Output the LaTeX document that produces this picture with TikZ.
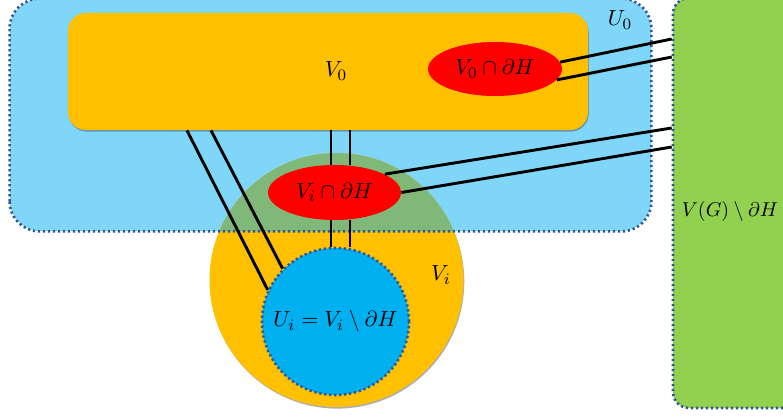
\documentclass[tikz,border=0pt]{standalone}
\usetikzlibrary{shapes.geometric,shadows}
\definecolor{ublue}{RGB}{127,214,248}
\definecolor{vorange}{RGB}{255,192,0}
\definecolor{gbox}{RGB}{146,208,80}
\definecolor{overlap}{RGB}{128,184,122}
\definecolor{uiblue}{RGB}{0,176,240}
\definecolor{dotc}{RGB}{47,85,151}
\tikzset{
  dotborder/.style={draw=dotc, line width=1.3pt, dash pattern=on 1.1pt off 1.4pt},
  softshadow/.style={drop shadow={shadow xshift=0.4pt, shadow yshift=-0.8pt, opacity=0.45, fill=black!70}},
  redell/.style={ellipse, fill=red, inner sep=0pt},
  edge/.style={line width=1.45pt, black},
  lbl/.style={font=\fontsize{11}{13}\selectfont, inner sep=0pt}
}
\begin{document}
\begin{tikzpicture}[x=0.5pt, y=-0.5pt]
\useasboundingbox (0,0) rectangle (783,417);
% U0 region (fill only)
\node[fill=ublue, rounded corners=15pt, minimum width=320.5pt, minimum height=116pt, inner sep=0pt] (u0) at (330.5,115) {};
% V0 box
\node[fill=vorange, rounded corners=9pt, minimum width=260pt, minimum height=58.5pt, inner sep=0pt, softshadow] (v0) at (328,71.5) {};
\node[lbl] (v0l) at (336,71) {$V_0$};
\node[redell, minimum width=67pt, minimum height=27pt, lbl] (v0h) at (495,69) {$V_0\cap\partial H$};
% Vi circle
\node[circle, fill=vorange, minimum size=127pt, inner sep=0pt, softshadow] (vi) at (336.5,280) {};
\begin{scope}
  \clip[rounded corners=15pt] (u0.south west) rectangle (u0.north east);
  \fill[overlap] (vi.center) circle[radius=63.5pt];
\end{scope}
\draw[dotborder, rounded corners=15pt] (u0.south west) rectangle (u0.north east);
\node[lbl] (u0l) at (620,20) {$U_0$};
\node[lbl] (vil) at (441,275) {$V_i$};
% green box
\node[fill=gbox, dotborder, rounded corners=8pt, minimum width=63.5pt, minimum height=205pt, inner sep=0pt] (g) at (736.5,203) {};
\node[lbl, font=\fontsize{10.3}{12}\selectfont] (gl) at (730,212) {$V(G)\setminus\partial H$};
% Vi cap dH
\node[redell, minimum width=66.5pt, minimum height=27.5pt, lbl] (vih) at (334.5,192.5) {$V_i\cap\partial H$};
% Ui circle
\node[circle, fill=uiblue, dotborder, minimum size=73.5pt, inner sep=0pt, lbl] (ui) at (335.5,321.5) {$U_i=V_i\setminus\partial H$};
% connectors
\draw[edge] (v0.south -| 331,0) -- (vih.north -| 331,0);
\draw[edge] (v0.south -| 350,0) -- (vih.north -| 350,0);
\draw[edge] (vih.south -| 331,0) -- (ui.north -| 331,0);
\draw[edge] (vih.south -| 350,0) -- (ui.north -| 350,0);
\draw[edge] (v0.south -| 187,0) -- (ui.155);
\draw[edge] (v0.south -| 211,0) -- (ui.135);
\draw[edge] (v0h.6) -- (g.west |- 0,39);
\draw[edge] (v0h.-10) -- (g.west |- 0,57);
\draw[edge] (vih.20) -- (g.west |- 0,128);
\draw[edge] (vih.0) -- (g.west |- 0,147);
\end{tikzpicture}
\end{document}
